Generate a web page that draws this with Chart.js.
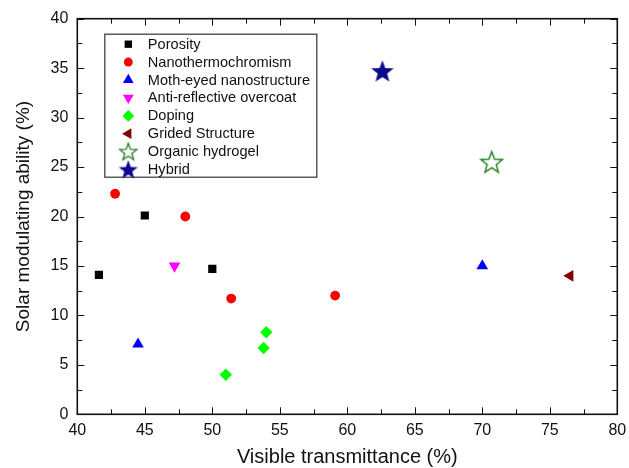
<!DOCTYPE html>
<html>
<head>
<meta charset="utf-8">
<script src="https://cdn.jsdelivr.net/npm/chart.js@4.4.1/dist/chart.umd.min.js"></script>
<style>
  html, body { margin: 0; padding: 0; background: #fff; }
  #c { display: block; }
</style>
</head>
<body>
<canvas id="c" width="629" height="468"></canvas>
<script>
// ---- data: visible transmittance (%) vs solar modulating ability (%) ----
const seriesNames = [
  'Porosity', 'Nanothermochromism', 'Moth-eyed nanostructure',
  'Anti-reflective overcoat', 'Doping', 'Grided Structure',
  'Organic hydrogel', 'Hybrid'
];
const porosityX = [41.6, 45.0, 50.0];
const porosityY = [14.1, 20.1, 14.7];
const nanothermoX = [42.8, 48.0, 51.4, 59.1];
const nanothermoY = [22.3, 20.0, 11.7, 12.0];
const mothEyeX = [44.5, 70.0];
const mothEyeY = [7.1, 15.0];
const antiReflectX = [47.2];
const antiReflectY = [15.0];
const dopingX = [51.0, 53.8, 54.0];
const dopingY = [4.0, 6.7, 8.3];
const gridedX = [76.5];
const gridedY = [14.0];
const hydrogelX = [70.7];
const hydrogelY = [25.5];
const hybridX = [62.6];
const hybridY = [34.7];

const xTicks = [40, 45, 50, 55, 60, 65, 70, 75, 80];
const yTicks = [0, 5, 10, 15, 20, 25, 30, 35, 40];

const FONT = "'Liberation Sans', Arial, Helvetica, sans-serif";

function pairs(xs, ys) { return xs.map((x, i) => ({ x: x, y: ys[i] })); }

// five-pointed star sprite used as a point style
function starSprite(R, fill, stroke, lw) {
  const size = Math.ceil(2 * R + 4);
  const cv = document.createElement('canvas');
  cv.width = size; cv.height = size;
  const g = cv.getContext('2d');
  const cx = size / 2, cy = size / 2 + R * 0.08;
  const r = R * 0.42;
  g.beginPath();
  for (let i = 0; i < 10; i++) {
    const rad = (i % 2 === 0) ? R : r;
    const a = -Math.PI / 2 + i * Math.PI / 5;
    const px = cx + rad * Math.cos(a), py = cy + rad * Math.sin(a);
    if (i === 0) g.moveTo(px, py); else g.lineTo(px, py);
  }
  g.closePath();
  if (fill) { g.fillStyle = fill; g.fill(); }
  if (stroke) { g.strokeStyle = stroke; g.lineWidth = lw; g.lineJoin = 'miter'; g.stroke(); }
  return cv;
}

const hydrogelStar = starSprite(11.4, '#ffffff', '#1e7d1e', 1.4);
const hybridStar = starSprite(11.8, '#0a0a8c', null, 0);
const hydrogelStarSmall = starSprite(9.0, '#ffffff', '#1e7d1e', 1.3);
const hybridStarSmall = starSprite(10.0, '#0a0a8c', null, 0);

const datasets = [
  { label: seriesNames[0], data: pairs(porosityX, porosityY), pointStyle: 'rect', pointRadius: 5.8,
    backgroundColor: '#000000', borderColor: '#000000', borderWidth: 0 },
  { label: seriesNames[1], data: pairs(nanothermoX, nanothermoY), pointStyle: 'circle', pointRadius: 4.9,
    backgroundColor: '#ff0000', borderColor: '#ff0000', borderWidth: 0 },
  { label: seriesNames[2], data: pairs(mothEyeX, mothEyeY), pointStyle: 'triangle', pointRadius: 6.7,
    backgroundColor: '#0000ff', borderColor: '#0000ff', borderWidth: 0 },
  { label: seriesNames[3], data: pairs(antiReflectX, antiReflectY), pointStyle: 'triangle', rotation: 180, pointRadius: 6.7,
    backgroundColor: '#ff00ff', borderColor: '#ff00ff', borderWidth: 0 },
  { label: seriesNames[4], data: pairs(dopingX, dopingY), pointStyle: 'rectRot', pointRadius: 6.2,
    backgroundColor: '#00ff00', borderColor: '#00ff00', borderWidth: 0 },
  { label: seriesNames[5], data: pairs(gridedX, gridedY), pointStyle: 'triangle', rotation: -90, pointRadius: 6.7,
    backgroundColor: '#800000', borderColor: '#800000', borderWidth: 0 },
  { label: seriesNames[6], data: pairs(hydrogelX, hydrogelY), pointStyle: hydrogelStar, pointRadius: 11,
    backgroundColor: '#ffffff', borderColor: '#1e7d1e', borderWidth: 0 },
  { label: seriesNames[7], data: pairs(hybridX, hybridY), pointStyle: hybridStar, pointRadius: 11,
    backgroundColor: '#0a0a8c', borderColor: '#0a0a8c', borderWidth: 0 }
];

const legendStyles = [
  { style: 'rect', radius: 5.2 },
  { style: 'circle', radius: 4.5 },
  { style: 'triangle', radius: 6.2 },
  { style: 'triangle', radius: 6.2, rotation: 180 },
  { style: 'rectRot', radius: 5.9 },
  { style: 'triangle', radius: 6.2, rotation: -90 },
  { style: hydrogelStarSmall, radius: 9 },
  { style: hybridStarSmall, radius: 9 }
];

// closed frame with inward major and minor tick marks on all four sides
const framePlugin = {
  id: 'frame',
  afterDraw(chart) {
    const { ctx, chartArea: a, scales } = chart;
    const xs = scales.x, ys = scales.y;
    ctx.save();
    ctx.strokeStyle = '#111';
    ctx.lineWidth = 1;
    const majorLen = 7, minorLen = 5;
    for (let v = 40; v <= 80.001; v += 2.5) {
      const px = Math.round(xs.getPixelForValue(v)) + 0.5;
      const len = (Math.abs(v % 5) < 1e-6) ? majorLen : minorLen;
      ctx.beginPath();
      ctx.moveTo(px, a.bottom); ctx.lineTo(px, a.bottom - len);
      ctx.moveTo(px, a.top); ctx.lineTo(px, a.top + len);
      ctx.stroke();
    }
    for (let v = 0; v <= 40.001; v += 2.5) {
      const py = Math.round(ys.getPixelForValue(v)) + 0.5;
      const len = (Math.abs(v % 5) < 1e-6) ? majorLen : minorLen;
      ctx.beginPath();
      ctx.moveTo(a.left, py); ctx.lineTo(a.left + len, py);
      ctx.moveTo(a.right, py); ctx.lineTo(a.right - len, py);
      ctx.stroke();
    }
    ctx.lineWidth = 1.6;
    ctx.strokeStyle = '#111';
    ctx.strokeRect(a.left, a.top, a.right - a.left, a.bottom - a.top);
    ctx.restore();
  }
};

// boxed legend inside the upper-left of the plot area
const boxLegendPlugin = {
  id: 'boxLegend',
  afterDraw(chart) {
    const { ctx, chartArea: a } = chart;
    const bx = a.left + 27.5, by = a.top + 15.5, bw = 212, bh = 143;
    ctx.save();
    ctx.strokeStyle = '#333';
    ctx.lineWidth = 1.2;
    ctx.strokeRect(bx, by, bw, bh);
    const rowH = 17.9;
    const markX = bx + 23.5;
    const textX = bx + 43;
    ctx.font = '14.6px ' + FONT;
    ctx.textBaseline = 'middle';
    ctx.textAlign = 'left';
    chart.data.datasets.forEach((ds, i) => {
      const y = by + 10 + i * rowH;
      const ls = legendStyles[i];
      ctx.fillStyle = ds.backgroundColor;
      ctx.strokeStyle = ds.borderColor;
      Chart.helpers.drawPoint(ctx, {
        pointStyle: ls.style, radius: ls.radius, rotation: ls.rotation || 0, borderWidth: 0
      }, markX, y);
      ctx.fillStyle = '#111';
      ctx.fillText(ds.label, textX, y + 0.5);
    });
    ctx.restore();
  }
};

new Chart(document.getElementById('c'), {
  type: 'scatter',
  data: { datasets: datasets },
  options: {
    responsive: false,
    animation: false,
    devicePixelRatio: 1,
    layout: { padding: { top: 18.7, right: 11.7, left: 0, bottom: 0 } },
    plugins: { legend: { display: false }, tooltip: { enabled: false } },
    elements: { point: { hoverRadius: 0 } },
    scales: {
      x: {
        type: 'linear', position: 'bottom', min: 40, max: 80,
        afterBuildTicks(s) { s.ticks = xTicks.map(v => ({ value: v })); },
        afterFit(s) { s.height = 53.7; s.paddingLeft = 0; s.paddingRight = 0; },
        grid: { display: false, drawTicks: false },
        border: { display: false },
        ticks: { color: '#111', padding: 7, font: { family: FONT, size: 16 } },
        title: { display: true, text: 'Visible transmittance (%)', color: '#111',
                 font: { family: FONT, size: 20, lineHeight: 1 }, padding: { top: 0, bottom: 1 } }
      },
      y: {
        type: 'linear', position: 'left', min: 0, max: 40,
        afterBuildTicks(s) { s.ticks = yTicks.map(v => ({ value: v })); },
        afterFit(s) { s.width = 77.3; s.paddingTop = 0; s.paddingBottom = 0; },
        grid: { display: false, drawTicks: false },
        border: { display: false },
        ticks: { color: '#111', padding: 9, font: { family: FONT, size: 16 } },
        title: { display: true, text: 'Solar modulating ability (%)', color: '#111',
                 font: { family: FONT, size: 19, lineHeight: 1 }, padding: { top: 14, bottom: 0 } }
      }
    }
  },
  plugins: [framePlugin, boxLegendPlugin]
});
</script>
</body>
</html>
